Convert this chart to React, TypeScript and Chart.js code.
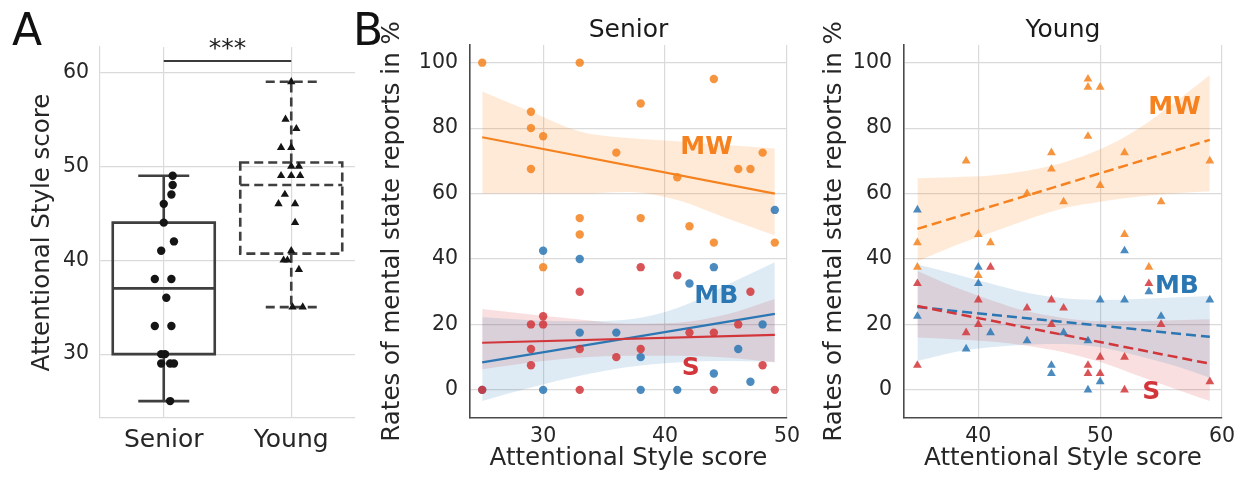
import React, { useEffect, useRef } from 'react';
import { Chart, registerables } from 'chart.js';

Chart.register(...registerables);

const FONT = "'DejaVu Sans', 'Liberation Sans', sans-serif";
const TEXT = '#262626';
const GRID = '#dadada';
const ORANGE = '#f5821f';
const BLUE = '#2b77b4';
const RED = '#d2363a';
const ORANGE_PT = 'rgba(245,130,31,0.85)';
const BLUE_PT = 'rgba(43,119,180,0.85)';
const RED_PT = 'rgba(210,54,58,0.85)';
const ORANGE_BAND = 'rgba(255,127,14,0.16)';
const BLUE_BAND = 'rgba(31,119,180,0.15)';
const RED_BAND = 'rgba(214,39,40,0.15)';

// ---------------- Panel A data ----------------
const groups = ['Senior', 'Young'];
const seniorScores = [49, 48, 47, 46, 44, 42, 41, 38, 38, 36, 33, 33, 30, 30, 29, 29, 29, 25];
const seniorJitter = [0.07, 0.07, 0.06, 0, 0, 0.08, -0.02, -0.07, 0.06, 0.02, -0.07, 0.06, -0.02, 0.01, -0.02, 0.05, 0.08, 0.05];
const youngScores = [59, 55, 54, 52, 52, 50, 50, 49, 49, 49, 47, 46, 46, 44, 41, 40, 40, 39, 35, 35];
const youngJitter = [0, -0.045, 0.04, -0.08, 0, 0, 0.06, -0.08, 0, 0.07, -0.05, -0.1, 0.03, 0.03, 0, -0.06, -0.03, 0.06, 0.01, 0.09];
const whiskerLow = [25, 35];
const quartile1 = [30, 40.7];
const medians = [37, 48];
const quartile3 = [44, 50.4];
const whiskerHigh = [49, 59];
const sigLevel = 61.2;
const sigText = '***';
const scoreTicks = [30, 40, 50, 60];

// ---------------- Panel B data ----------------
const rateTicks = [0, 20, 40, 60, 80, 100];
const seniorXTicks = [30, 40, 50];
const youngXTicks = [40, 50, 60];

const seniorMW: number[][] = [[25, 100], [33, 100], [29, 85], [29, 80], [30, 77.5], [29, 67.5], [33, 52.5], [33, 47.5], [30, 37.5], [36, 72.5], [38, 87.5], [38, 52.5], [41, 65], [42, 50], [44, 95], [44, 45], [46, 67.5], [47, 67.5], [48, 72.5], [49, 45]];
const seniorMB: number[][] = [[25, 0], [30, 42.5], [33, 40], [33, 17.5], [30, 0], [36, 17.5], [38, 10], [38, 0], [41, 0], [42, 32.5], [44, 37.5], [44, 5], [46, 12.5], [47, 2.5], [48, 20], [49, 55]];
const seniorS: number[][] = [[25, 0], [29, 20], [30, 20], [30, 22.5], [29, 12.5], [29, 7.5], [33, 30], [33, 12.5], [33, 0], [36, 10], [38, 37.5], [38, 12.5], [41, 35], [42, 17.5], [44, 17.5], [44, 0], [46, 20], [47, 30], [48, 7.5], [49, 0]];

const seniorFitX = [25, 49];
const seniorMWFit = [77.2, 60.0];
const seniorMBFit = [8.4, 23.2];
const seniorSFit = [14.4, 16.8];

const seniorBandX = [25, 29, 33, 37, 41, 45, 49];
const seniorMWUpper = [91.2, 85, 79, 77, 76, 74.8, 73.8];
const seniorMWLower = [60, 60, 60, 60.5, 58, 52.5, 47.2];
const seniorMBUpper = [22.2, 21.3, 21, 21.5, 25, 32, 39];
const seniorMBLower = [-3.4, 0.7, 4.3, 7, 8.4, 8.8, 8.6];
const seniorSUpper = [24.7, 23, 21.5, 20.2, 20.5, 23, 27.8];
const seniorSLower = [6.3, 8.4, 9.9, 10.4, 10.4, 9.9, 8.4];

const youngMW: number[][] = [[35, 45], [35, 37.5], [39, 70], [40, 47.5], [40, 35], [41, 45], [44, 60], [46, 72.5], [46, 67.5], [47, 57.5], [49, 95], [49, 92.5], [50, 92.5], [49, 77.5], [50, 62.5], [52, 72.5], [52, 47.5], [54, 37.5], [55, 57.5], [59, 70]];
const youngMB: number[][] = [[35, 55], [35, 22.5], [39, 12.5], [40, 37.5], [40, 32.5], [41, 17.5], [44, 15], [46, 7.5], [46, 5], [47, 17.5], [49, 15], [49, 0], [50, 27.5], [50, 2.5], [52, 42.5], [52, 27.5], [54, 30], [55, 22.5], [59, 27.5]];
const youngS: number[][] = [[35, 32.5], [35, 7.5], [39, 17.5], [40, 27.5], [40, 20], [41, 37.5], [44, 25], [46, 27.5], [46, 20], [47, 25], [49, 7.5], [49, 5], [50, 10], [50, 5], [52, 10], [52, 0], [54, 32.5], [55, 20], [59, 2.5]];

const youngFitX = [35, 59];
const youngMWFit = [49.2, 76.4];
const youngMBFit = [25.3, 16.2];
const youngSFit = [25.6, 8.0];

const youngBandX = [35, 38, 41, 44, 47, 50, 53, 56, 59];
const youngMWUpper = [64.7, 65, 65.5, 67, 69.5, 73.5, 79.5, 87.5, 96.2];
const youngMWLower = [39.3, 44, 48, 52, 55.5, 57.5, 59, 60, 60.7];
const youngMBUpper = [38.3, 35.5, 32.5, 29.7, 28, 27.5, 27.8, 28.2, 28.7];
const youngMBLower = [8.8, 11.5, 13, 13.8, 14, 13, 10.5, 7.5, 3.7];
const youngSUpper = [36.3, 31.5, 27.5, 24, 22, 21, 21, 21.3, 21.6];
const youngSLower = [16, 15.5, 14.8, 13.5, 11.5, 8.5, 4.5, 0.5, -3.4];

const seriesNames = ['MW', 'MB', 'S'];
// annotation anchor positions (data coordinates)
const seniorLabelAt = [[43.4, 74.5], [44.2, 28.8], [42.1, 6.7]];
const youngLabelAt = [[56.1, 86.5], [56.3, 31.9], [54.2, -0.4]];

const H = 477;

const fixTicks = (values: number[]) => (s: any) => {
  s.ticks = values.map((v) => ({ value: v }));
};

function panelLetter(letter: string, cx: number) {
  return {
    id: 'panelLetter' + letter,
    afterDraw(chart: any) {
      const ctx = chart.ctx;
      ctx.save();
      ctx.font = `44px ${FONT}`;
      ctx.fillStyle = '#111';
      ctx.textAlign = 'center';
      ctx.textBaseline = 'alphabetic';
      ctx.fillText(letter, cx, 45);
      ctx.restore();
    },
  };
}

const boxPlugin = {
  id: 'boxPlot',
  beforeDatasetsDraw(chart: any) {
    const { ctx } = chart;
    const x = chart.scales.x;
    const y = chart.scales.y;
    const half = 0.4;
    const cap = 0.2;
    groups.forEach((_, i) => {
      ctx.save();
      ctx.strokeStyle = '#3f3f3f';
      ctx.lineWidth = 2.6;
      ctx.setLineDash(i === 1 ? [9, 5] : []);
      const xl = x.getPixelForValue(i - half);
      const xr = x.getPixelForValue(i + half);
      const xc = x.getPixelForValue(i);
      const cl = x.getPixelForValue(i - cap);
      const cr = x.getPixelForValue(i + cap);
      const q1 = y.getPixelForValue(quartile1[i]);
      const q3 = y.getPixelForValue(quartile3[i]);
      const md = y.getPixelForValue(medians[i]);
      const lo = y.getPixelForValue(whiskerLow[i]);
      const hi = y.getPixelForValue(whiskerHigh[i]);
      ctx.beginPath();
      ctx.rect(xl, q3, xr - xl, q1 - q3);
      ctx.stroke();
      ctx.beginPath();
      ctx.moveTo(xl, md); ctx.lineTo(xr, md);
      ctx.moveTo(xc, q1); ctx.lineTo(xc, lo);
      ctx.moveTo(xc, q3); ctx.lineTo(xc, hi);
      ctx.moveTo(cl, lo); ctx.lineTo(cr, lo);
      ctx.moveTo(cl, hi); ctx.lineTo(cr, hi);
      ctx.stroke();
      ctx.restore();
    });
  },
  afterDraw(chart: any) {
    const { ctx } = chart;
    const x = chart.scales.x;
    const y = chart.scales.y;
    const py = y.getPixelForValue(sigLevel);
    const x0 = x.getPixelForValue(0);
    const x1 = x.getPixelForValue(1);
    ctx.save();
    ctx.strokeStyle = '#3a3a3a';
    ctx.lineWidth = 2;
    ctx.beginPath();
    ctx.moveTo(x0, py);
    ctx.lineTo(x1, py);
    ctx.stroke();
    ctx.fillStyle = '#222';
    ctx.font = `25px ${FONT}`;
    ctx.textAlign = 'center';
    ctx.textBaseline = 'alphabetic';
    ctx.fillText(sigText, (x0 + x1) / 2, py - 5);
    ctx.restore();
  },
};

function configA(): any {
  return {
    type: 'scatter',
    data: {
      datasets: [
        {
          data: seniorScores.map((v, i) => ({ x: 0 + seniorJitter[i], y: v })),
          pointStyle: 'circle',
          pointRadius: 4.2,
          backgroundColor: '#151515',
          borderColor: '#151515',
          borderWidth: 0,
        },
        {
          data: youngScores.map((v, i) => ({ x: 1 + youngJitter[i], y: v })),
          pointStyle: 'triangle',
          pointRadius: 4.8,
          backgroundColor: '#151515',
          borderColor: '#151515',
          borderWidth: 0,
        },
      ],
    },
    options: {
      responsive: false,
      animation: false,
      devicePixelRatio: 1,
      events: [],
      layout: { padding: { left: 0, right: 15, top: 47, bottom: 0 } },
      plugins: { legend: { display: false }, tooltip: { enabled: false } },
      scales: {
        x: {
          type: 'linear',
          min: -0.5,
          max: 1.5,
          afterBuildTicks: fixTicks(groups.map((_, i) => i)),
          afterFit: (s: any) => { s.height = 59; },
          ticks: {
            callback: (v: any) => groups[v] ?? '',
            font: { family: FONT, size: 25 },
            color: TEXT,
            padding: 7.5,
          },
          grid: { color: GRID, lineWidth: 1.2, drawTicks: false },
          border: { color: GRID, width: 1.2 },
        },
        y: {
          min: 23.2,
          max: 62.7,
          afterBuildTicks: fixTicks(scoreTicks),
          afterFit: (s: any) => { s.width = 100; },
          title: {
            display: true,
            text: 'Attentional Style score',
            font: { family: FONT, size: 24.5 },
            color: TEXT,
            padding: { top: 27.8, bottom: 0 },
          },
          ticks: { font: { family: FONT, size: 20.5 }, color: TEXT, padding: 11 },
          grid: { color: GRID, lineWidth: 1.2, drawTicks: false },
          border: { color: GRID, width: 1.2 },
        },
      },
    },
    plugins: [boxPlugin, panelLetter('A', 27)],
  };
}

interface SeriesDef {
  points: number[][];
  fit: number[];
  upper: number[];
  lower: number[];
  line: string;
  pt: string;
  band: string;
}

interface PanelDef {
  title: string;
  xMin: number;
  xMax: number;
  xTicks: number[];
  fitX: number[];
  bandX: number[];
  series: SeriesDef[];
  marker: string;
  markerRadius: number;
  dash: number[];
  labelAt: number[][];
  yAxisWidth: number;
  rightPad: number;
  yTitlePad: number;
  letter?: { text: string; cx: number };
}

function configB(p: PanelDef): any {
  const datasets: any[] = [];
  p.series.forEach((s, k) => {
    datasets.push({
      data: p.bandX.map((x, i) => ({ x, y: s.upper[i] })),
      borderWidth: 0,
      pointRadius: 0,
      fill: '+1',
      backgroundColor: s.band,
      cubicInterpolationMode: 'monotone',
      order: 30 + k,
    });
    datasets.push({
      data: p.bandX.map((x, i) => ({ x, y: s.lower[i] })),
      borderWidth: 0,
      pointRadius: 0,
      fill: false,
      backgroundColor: 'transparent',
      cubicInterpolationMode: 'monotone',
      order: 30 + k,
    });
    datasets.push({
      data: p.fitX.map((x, i) => ({ x, y: s.fit[i] })),
      borderColor: s.line,
      borderWidth: p.dash.length ? 2.5 : 2.2,
      borderDash: p.dash,
      pointRadius: 0,
      fill: false,
      order: 22 - k,
    });
    datasets.push({
      data: s.points.map(([x, y]) => ({ x, y })),
      showLine: false,
      pointStyle: p.marker,
      pointRadius: p.markerRadius,
      pointBackgroundColor: s.pt,
      pointBorderColor: s.pt,
      pointBorderWidth: 0,
      order: 12 - k,
    });
  });

  const labelPlugin = {
    id: 'seriesLabels',
    afterDatasetsDraw(chart: any) {
      const { ctx } = chart;
      const x = chart.scales.x;
      const y = chart.scales.y;
      ctx.save();
      ctx.font = `bold 25px ${FONT}`;
      ctx.textAlign = 'center';
      ctx.textBaseline = 'middle';
      seriesNames.forEach((name, k) => {
        ctx.fillStyle = p.series[k].line;
        ctx.fillText(name, x.getPixelForValue(p.labelAt[k][0]), y.getPixelForValue(p.labelAt[k][1]) + 1);
      });
      ctx.restore();
    },
  };

  const plugins: any[] = [labelPlugin];
  if (p.letter) plugins.push(panelLetter(p.letter.text, p.letter.cx));

  return {
    type: 'line',
    data: { datasets },
    options: {
      responsive: false,
      animation: false,
      devicePixelRatio: 1,
      events: [],
      layout: { padding: { left: 0, right: p.rightPad, top: 0, bottom: 0 } },
      plugins: {
        legend: { display: false },
        tooltip: { enabled: false },
        title: {
          display: true,
          text: p.title,
          fullSize: false,
          font: { family: FONT, size: 25, weight: 'normal' },
          color: '#1a1a1a',
          padding: { top: 15, bottom: 0 },
        },
      },
      scales: {
        x: {
          type: 'linear',
          min: p.xMin,
          max: p.xMax,
          afterBuildTicks: fixTicks(p.xTicks),
          afterFit: (s: any) => { s.height = 59; },
          title: {
            display: true,
            text: 'Attentional Style score',
            font: { family: FONT, size: 24.5 },
            color: TEXT,
            padding: { top: 0, bottom: 4 },
          },
          ticks: { font: { family: FONT, size: 20.5 }, color: TEXT, padding: 6 },
          grid: { color: GRID, lineWidth: 1.2, drawTicks: false },
          border: { color: '#4a4a4a', width: 1.6 },
        },
        y: {
          min: -8.6,
          max: 105.4,
          afterBuildTicks: fixTicks(rateTicks),
          afterFit: (s: any) => { s.width = p.yAxisWidth; },
          title: {
            display: true,
            text: 'Rates of mental state reports in %',
            font: { family: FONT, size: 24.5 },
            color: TEXT,
            padding: { top: p.yTitlePad, bottom: 0 },
          },
          ticks: { font: { family: FONT, size: 20.5 }, color: TEXT, padding: 12 },
          grid: { color: GRID, lineWidth: 1.2, drawTicks: false },
          border: { color: '#4a4a4a', width: 1.6 },
        },
      },
    },
    plugins,
  };
}

const seniorPanel: PanelDef = {
  title: 'Senior',
  xMin: 24,
  xMax: 50,
  xTicks: seniorXTicks,
  fitX: seniorFitX,
  bandX: seniorBandX,
  series: [
    { points: seniorMW, fit: seniorMWFit, upper: seniorMWUpper, lower: seniorMWLower, line: ORANGE, pt: ORANGE_PT, band: ORANGE_BAND },
    { points: seniorMB, fit: seniorMBFit, upper: seniorMBUpper, lower: seniorMBLower, line: BLUE, pt: BLUE_PT, band: BLUE_BAND },
    { points: seniorS, fit: seniorSFit, upper: seniorSUpper, lower: seniorSLower, line: RED, pt: RED_PT, band: RED_BAND },
  ],
  marker: 'circle',
  markerRadius: 4.2,
  dash: [],
  labelAt: seniorLabelAt,
  yAxisWidth: 125,
  rightPad: 23,
  yTitlePad: 33.3,
  letter: { text: 'B', cx: 23 },
};

const youngPanel: PanelDef = {
  title: 'Young',
  xMin: 33.9,
  xMax: 60,
  xTicks: youngXTicks,
  fitX: youngFitX,
  bandX: youngBandX,
  series: [
    { points: youngMW, fit: youngMWFit, upper: youngMWUpper, lower: youngMWLower, line: ORANGE, pt: ORANGE_PT, band: ORANGE_BAND },
    { points: youngMB, fit: youngMBFit, upper: youngMBUpper, lower: youngMBLower, line: BLUE, pt: BLUE_PT, band: BLUE_BAND },
    { points: youngS, fit: youngSFit, upper: youngSUpper, lower: youngSLower, line: RED, pt: RED_PT, band: RED_BAND },
  ],
  marker: 'triangle',
  markerRadius: 5.1,
  dash: [10, 5],
  labelAt: youngLabelAt,
  yAxisWidth: 94,
  rightPad: 22,
  yTitlePad: 10,
};

function ChartCanvas({ left, width, build }: { left: number; width: number; build: () => any }) {
  const ref = useRef<HTMLCanvasElement>(null);
  useEffect(() => {
    const chart = new Chart(ref.current as HTMLCanvasElement, build());
    return () => chart.destroy();
  }, []);
  return (
    <canvas
      ref={ref}
      width={width}
      height={H}
      style={{ position: 'absolute', left, top: 0, width, height: H }}
    />
  );
}

export default function App() {
  return (
    <div style={{ position: 'absolute', left: 0, top: 0, width: 1244, height: H, background: '#fff', overflow: 'hidden' }}>
      <ChartCanvas left={0} width={370} build={configA} />
      <ChartCanvas left={345} width={465} build={() => configB(seniorPanel)} />
      <ChartCanvas left={810} width={434} build={() => configB(youngPanel)} />
    </div>
  );
}
